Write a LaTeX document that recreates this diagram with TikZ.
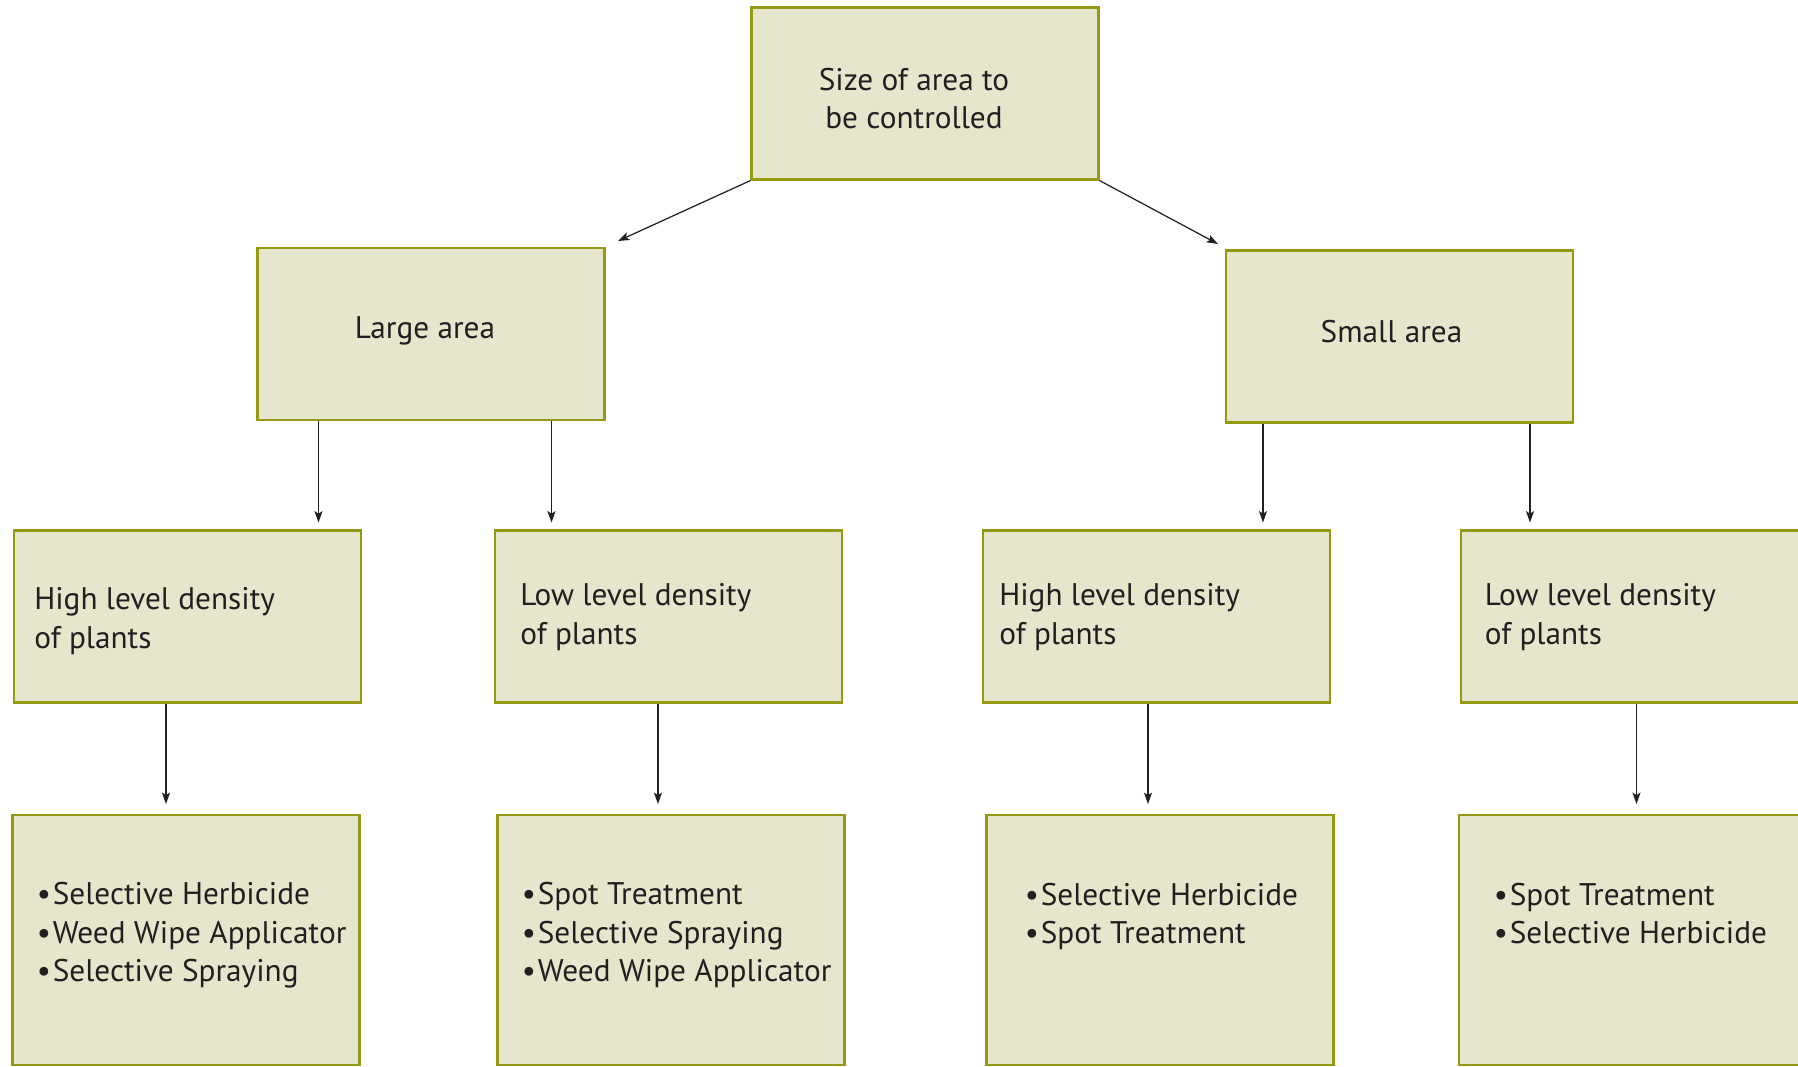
\documentclass[tikz,border=0pt]{standalone}
\usepackage{fontspec}
\setmainfont{PT Sans}
\usetikzlibrary{arrows.meta,calc,positioning}

\definecolor{boxfill}{RGB}{230,230,204}
\definecolor{boxline}{RGB}{150,153,20}
\definecolor{ink}{RGB}{35,31,32}

\newcommand{\itm}{\textbullet\hspace{0.06em}}

\begin{document}
\begin{tikzpicture}[x=0.02cm,y=-0.02cm,
		box/.style={draw=boxline,fill=boxfill,line width=1.2pt,minimum width=6.94cm,minimum height=3.44cm,inner sep=0pt},
		tallbox/.style={box,minimum height=5cm},
		txt/.style={anchor=base west,inner sep=0pt,align=left,text=ink,font=\fontsize{17.8}{22}\selectfont},
		ctxt/.style={txt,anchor=center,align=center},
		arr/.style={draw=ink,line width=0.7pt,-{Stealth[length=6.5pt,width=4.6pt,inset=1.5pt]}}]
		\useasboundingbox (0,0) rectangle (1798,1067);
		\clip (0,0) rectangle (1798,1067);
		\node[box] (size) at (925,93.5) {};
		\node[box] (large) at (431,334) {};
		\node[box] (small) at (1399.5,336.5) {};
		\node[box] (hA) at (187.5,616.5) {};
		\node[box] (lB) at (668.5,616.5) {};
		\node[box] (hC) at (1156.5,616.5) {};
		\node[box] (lD) at (1634,616.5) {};
		\node[tallbox] (mA) at (186,940) {};
		\node[tallbox] (mB) at (671,940) {};
		\node[tallbox] (mC) at (1160,940) {};
		\node[tallbox] (mD) at (1632,940) {};
		\node[ctxt] (sizet) at ($(size.center)+(-11,5)$) {Size of area to\\be controlled};
		\node[ctxt] (larget) at ($(large.center)+(-6,-3)$) {Large area};
		\node[ctxt] (smallt) at ($(small.center)+(-8,-5)$) {Small area};
		\node[txt] (hAt) at ($(hA.north west)+(21,119)$) {High level density\\of plants};
		\node[txt] (lBt) at ($(lB.north west)+(26,115)$) {Low level density\\of plants};
		\node[txt] (hCt) at ($(hC.north west)+(17,115)$) {High level density\\of plants};
		\node[txt] (lDt) at ($(lD.north west)+(25,115)$) {Low level density\\of plants};
		\node[txt] (mAt) at ($(mA.north west)+(25,168)$) {\itm Selective Herbicide\\\itm Weed Wipe Applicator\\\itm Selective Spraying};
		\node[txt] (mBt) at ($(mB.north west)+(25,168)$) {\itm Spot Treatment\\\itm Selective Spraying\\\itm Weed Wipe Applicator};
		\node[txt] (mCt) at ($(mC.north west)+(39,130)$) {\itm Selective Herbicide\\\itm Spot Treatment};
		\node[txt] (mDt) at ($(mD.north west)+(36,130)$) {\itm Spot Treatment\\\itm Selective Herbicide};
		\coordinate (lt) at (618,241);
		\coordinate (rt) at (1218,244);
		\coordinate (a1) at ($(large.south west)+(62,0)$);
		\coordinate (a2) at ($(large.south west)+(295,0)$);
		\coordinate (a3) at ($(small.south west)+(38,0)$);
		\coordinate (a4) at ($(small.south west)+(305,0)$);
		\coordinate (b1) at ($(hA.south west)+(153,0)$);
		\coordinate (b2) at ($(lB.south west)+(164,0)$);
		\coordinate (b3) at ($(hC.south west)+(166,0)$);
		\coordinate (b4) at ($(lD.south west)+(177,0)$);
		\draw[arr] (size.south west) -- (lt);
		\draw[arr] (size.south east) -- (rt);
		\draw[arr,shorten >=0.14cm] (a1) -- (a1 |- hA.north);
		\draw[arr,shorten >=0.14cm] (a2) -- (a2 |- lB.north);
		\draw[arr,shorten >=0.14cm] (a3) -- (a3 |- hC.north);
		\draw[arr,shorten >=0.14cm] (a4) -- (a4 |- lD.north);
		\draw[arr,shorten >=0.2cm] (b1) -- (b1 |- mA.north);
		\draw[arr,shorten >=0.2cm] (b2) -- (b2 |- mB.north);
		\draw[arr,shorten >=0.2cm] (b3) -- (b3 |- mC.north);
		\draw[arr,shorten >=0.2cm] (b4) -- (b4 |- mD.north);
	\end{tikzpicture}
\end{document}
